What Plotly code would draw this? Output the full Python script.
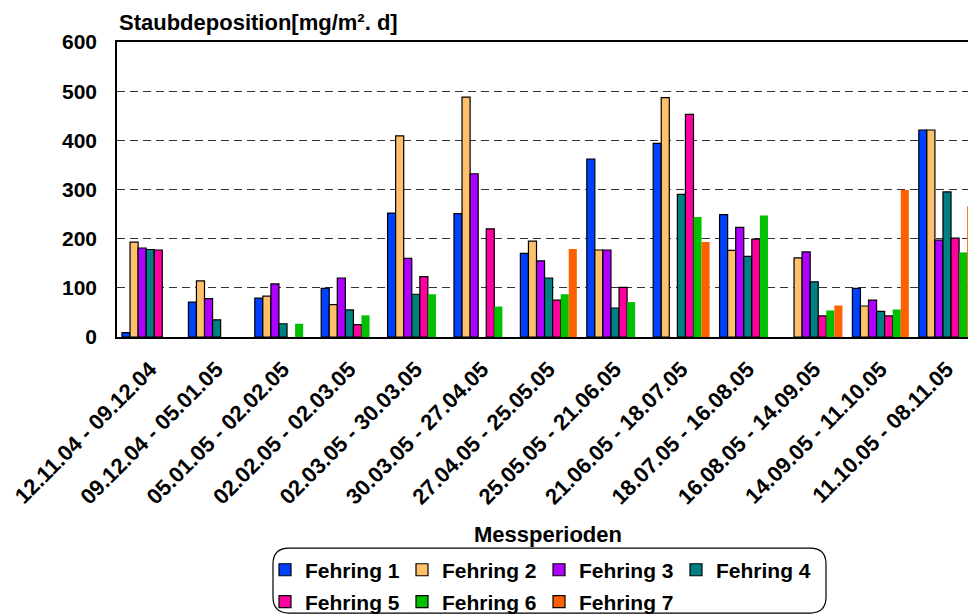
import plotly.graph_objects as go

categories = ["12.11.04 - 09.12.04", "09.12.04 - 05.01.05", "05.01.05 - 02.02.05",
              "02.02.05 - 02.03.05", "02.03.05 - 30.03.05", "30.03.05 - 27.04.05",
              "27.04.05 - 25.05.05", "25.05.05 - 21.06.05", "21.06.05 - 18.07.05",
              "18.07.05 - 16.08.05", "16.08.05 - 14.09.05", "14.09.05 - 11.10.05",
              "11.10.05 - 08.11.05"]

fehring1 = [9, 71, 79, 99, 252, 251, 170, 362, 394, 249, None, 99, 421]
fehring2 = [193, 114, 83, 66, 409, 488, 195, 177, 487, 176, 161, 63, 421]
fehring3 = [181, 78, 108, 120, 160, 332, 155, 177, None, 223, 173, 75, 197]
fehring4 = [178, 35, 27, 55, 87, None, 120, 59, 290, 164, 112, 52, 295]
fehring5 = [177, None, None, 25, 123, 220, 75, 101, 453, 199, 43, 43, 201]
fehring6 = [None, None, 27, 44, 87, 62, 87, 71, 244, 247, 54, 56, 172]
fehring7 = [None, None, None, None, None, None, 179, None, 193, None, 64, 299, 266]

series_names = ["Fehring 1", "Fehring 2", "Fehring 3", "Fehring 4",
                "Fehring 5", "Fehring 6", "Fehring 7"]
y_ticks = [0, 100, 200, 300, 400, 500, 600]

series = [fehring1, fehring2, fehring3, fehring4, fehring5, fehring6, fehring7]
colors = ["#0040ff", "#ffc06c", "#b000ff", "#008080", "#ff00a0", "#00c000", "#ff6000"]
outlined = [True, True, True, True, True, False, False]

FONT = "Liberation Sans, Arial, sans-serif"
W, H = 968, 616
L, T = 117, 42
B_PX = 337.5
PW = W - L
PH = B_PX - T
CAT_W = 66.4


def px2x(px):
    return (px - L) / PW


def px2y(py):
    return (B_PX - py) / PH


fig = go.Figure()
for name, vals, col, ol in zip(series_names, series, colors, outlined):
    fig.add_trace(go.Bar(
        x=categories, y=vals, name=name, showlegend=False, hoverinfo="skip",
        marker=dict(color=col, line=dict(color="black" if ol else col, width=1.2 if ol else 0)),
    ))

# legend entries (all with black outline, like the original)
for i, (name, col) in enumerate(zip(series_names, colors)):
    fig.add_trace(go.Bar(
        x=[0], y=[None], name=name, xaxis="x2", yaxis="y2",
        marker=dict(color=col, line=dict(color="black", width=1.2)),
        legend="legend" if i < 4 else "legend2",
    ))

x_max = PW / CAT_W - 0.5

legend_common = dict(
    orientation="h", xanchor="left", yanchor="middle",
    font=dict(family=FONT, size=21, color="black", weight="bold"),
    bgcolor="rgba(0,0,0,0)", borderwidth=0, entrywidth=92,
    itemclick=False, itemdoubleclick=False,
)

# rounded legend box
bx0, bx1, by0, by1, r = 273, 826, 549, 614, 16
path = (f"M {px2x(bx0 + r)} {px2y(by0)} L {px2x(bx1 - r)} {px2y(by0)} "
        f"Q {px2x(bx1)} {px2y(by0)} {px2x(bx1)} {px2y(by0 + r)} "
        f"L {px2x(bx1)} {px2y(by1 - r)} "
        f"Q {px2x(bx1)} {px2y(by1)} {px2x(bx1 - r)} {px2y(by1)} "
        f"L {px2x(bx0 + r)} {px2y(by1)} "
        f"Q {px2x(bx0)} {px2y(by1)} {px2x(bx0)} {px2y(by1 - r)} "
        f"L {px2x(bx0)} {px2y(by0 + r)} "
        f"Q {px2x(bx0)} {px2y(by0)} {px2x(bx0 + r)} {px2y(by0)} Z")

fig.update_layout(
    width=W, height=H,
    margin=dict(l=L, r=0, t=T, b=H - B_PX, autoexpand=False),
    paper_bgcolor="white", plot_bgcolor="white",
    barmode="group", bargap=0.15, bargroupgap=0,
    font=dict(family=FONT, size=21, color="black"),
    xaxis=dict(
        type="category", range=[-0.5, x_max], showgrid=False,
        showline=True, linecolor="black", linewidth=1.5, mirror=True,
        ticks="", tickangle=-45, automargin=False, ticklabelstandoff=9,
        tickfont=dict(family=FONT, size=22, color="black", weight="bold"),
    ),
    yaxis=dict(
        range=[0, 600], tickvals=y_ticks, showgrid=True,
        gridcolor="#333", gridwidth=1, griddash="8px,5px",
        showline=True, linecolor="black", linewidth=1.5, zeroline=False,
        ticks="", ticklabelstandoff=14, automargin=False,
        tickfont=dict(family=FONT, size=21, color="black", weight="bold"),
    ),
    xaxis2=dict(visible=False, overlaying="x", range=[10, 11]),
    yaxis2=dict(visible=False, overlaying="y", range=[0, 1]),
    legend=dict(x=px2x(265), y=px2y(571), **legend_common),
    legend2=dict(x=px2x(265), y=px2y(603), **legend_common),
    annotations=[
        dict(text="Staubdeposition[mg/m². d]", xref="paper", yref="paper",
             x=0, y=px2y(22), xanchor="left", yanchor="middle", showarrow=False,
             font=dict(family=FONT, size=22, color="black", weight="bold")),
        dict(text="Messperioden", xref="paper", yref="paper",
             x=px2x(548), y=px2y(535), xanchor="center", yanchor="middle", showarrow=False,
             font=dict(family=FONT, size=22, color="black", weight="bold")),
    ],
    shapes=[dict(type="path", xref="paper", yref="paper", path=path,
                 line=dict(color="black", width=1.2), fillcolor="rgba(0,0,0,0)")],
)

# remove the default page margin so the 968x616 figure fills the window exactly
fig.write_html(
    "out.html",
    config={"displayModeBar": False},
    post_script="document.body.style.margin='0';document.body.style.overflow='hidden';",
)
